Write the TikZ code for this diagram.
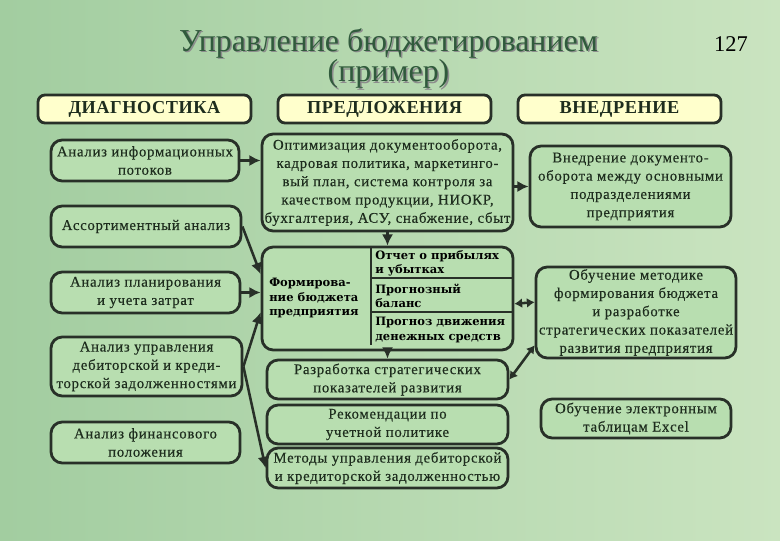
\documentclass[tikz,border=0pt]{standalone}
\usepackage{fontspec}
\setmainfont{Liberation Serif}
\newfontfamily\boxfont[LetterSpace=5, FakeBold=0.4]{Liberation Serif}
\newfontfamily\headfont[LetterSpace=3]{Liberation Serif}
\newfontfamily\cellfont{DejaVu Serif}
\usetikzlibrary{arrows.meta, calc}

\definecolor{bgleft}{RGB}{162,205,160}
\definecolor{bgright}{RGB}{202,228,192}
\definecolor{boxfill}{RGB}{184,222,176}
\definecolor{headfill}{RGB}{255,255,204}
\definecolor{edge}{RGB}{40,48,40}
\definecolor{ink}{RGB}{30,45,30}
\definecolor{titleink}{RGB}{48,90,60}

\begin{document}
\begin{tikzpicture}[
    x=0.025cm, y=-0.025cm,
    sz/.style 2 args={minimum width=#1*0.025cm, minimum height=#2*0.025cm},
    block/.style={rectangle, draw=edge, line width=2pt, fill=boxfill, rounded corners=8pt, align=center, inner sep=1pt, text=ink, font=\boxfont\fontsize{10.5}{13}\selectfont},
    head/.style={block, fill=headfill, rounded corners=5pt, font=\headfont\bfseries\fontsize{13}{15}\selectfont},
    cell/.style={anchor=west, align=left, inner sep=0pt, font=\cellfont\bfseries\fontsize{8.2}{10}\selectfont},
    arrow/.style={line width=1.8pt, draw=edge, -{Latex[length=8pt,width=8pt]}},
    twoway/.style={line width=1.8pt, draw=edge, {Latex[length=5.5pt,width=7pt]}-{Latex[length=5.5pt,width=7pt]}}
]
% background
\fill[left color=bgleft, right color=bgright] (0,0) rectangle (780,540);
\useasboundingbox (0,0) rectangle (780,540);

% title
\node[align=center, text=black!45, font=\fontsize{22.7}{22}\selectfont] (titleshadow) at (390,60) {Управление бюджетированием\\(пример)};
\node[align=center, text=titleink, font=\fontsize{22.7}{22}\selectfont] (title) at (388.5,58.5) {Управление бюджетированием\\(пример)};
\node[font=\fontsize{16}{16}\selectfont] (page) at (731,44) {127};

% column heads
\node[head, sz={213}{28}] (diag) at (144.5,109) {ДИАГНОСТИКА};
\node[head, sz={213}{28}] (pred) at (384.5,109) {ПРЕДЛОЖЕНИЯ};
\node[head, sz={203}{28}] (vned) at (619.5,109) {ВНЕДРЕНИЕ};

% diagnostics
\node[block, sz={188}{41}] (info) at (145,160.5) {Анализ информационных\\потоков};
\node[block, sz={190}{41}] (assort) at (146,226.5) {Ассортиментный анализ};
\node[block, sz={189}{41}] (plan) at (145.5,292.5) {Анализ планирования\\и учета затрат};
\node[block, sz={191}{59}] (debt) at (146.5,366.5) {Анализ управления\\дебиторской и креди-\\торской задолженностями};
\node[block, sz={189}{41}] (fin) at (145.5,442.5) {Анализ финансового\\положения};

% proposals
\node[block, sz={251}{97}] (optim) at (387.5,182.5) {Оптимизация документооборота,\\кадровая политика, маркетинго-\\вый план, система контроля за\\качеством продукции, НИОКР,\\бухгалтерия, АСУ, снабжение, сбыт};
\node[block, sz={251}{103}] (budget) at (387.5,298.5) {};
\node[block, sz={241}{39}] (strat) at (387.5,379.5) {Разработка стратегических\\показателей развития};
\node[block, sz={241}{39}] (recom) at (387.5,424.5) {Рекомендации по\\учетной политике};
\node[block, sz={241}{40}] (methods) at (387.5,468) {Методы управления дебиторской\\и кредиторской задолженностью};

% budget table
\draw[edge, line width=1.6pt] (371,247) -- (371,345);
\draw[edge, line width=1.6pt] (371,278) -- (budget.east |- 0,278);
\draw[edge, line width=1.6pt] (371,312) -- (budget.east |- 0,312);
\node[cell] (budgettext) at (269,298) {Формирова-\\ние бюджета\\предприятия};
\node[cell] (profit) at (375,263) {Отчет о прибылях\\и убытках};
\node[cell] (balance) at (375,296) {Прогнозный\\баланс};
\node[cell] (cash) at (375,330) {Прогноз движения\\денежных средств};

% implementation
\node[block, sz={201}{81}] (vnedr) at (630.5,186.5) {Внедрение документо-\\оборота между основными\\подразделениями\\предприятия};
\node[block, sz={200}{91}] (train) at (636,312.5) {Обучение методике\\формирования бюджета\\и разработке\\стратегических показателей\\развития предприятия};
\node[block, sz={190}{39}] (excel) at (636,418.5) {Обучение электронным\\таблицам Excel};

% connectors
\draw[arrow] (info.east) -- (info.east -| optim.west);
\draw[arrow] (assort.east) -- ($(budget.north west)!0.27!(budget.south west)$);
\draw[arrow] (plan.east) -- (plan.east -| budget.west);
\draw[arrow] (debt.east) -- ($(budget.north west)!0.63!(budget.south west)$);
\draw[arrow] (debt.east) -- (methods.west);
\draw[arrow] (optim.south) -- (budget.north);
\draw[arrow] (budget.south) -- (strat.north);
\draw[arrow] (optim.east |- vnedr.west) -- (vnedr.west);
\draw[twoway] ($(budget.north east)!0.55!(budget.south east)$) -- ($(train.north west)!0.39!(train.south west)$);
\draw[twoway] (strat.east) -- ($(train.north west)!0.85!(train.south west)$);
\end{tikzpicture}
\end{document}
